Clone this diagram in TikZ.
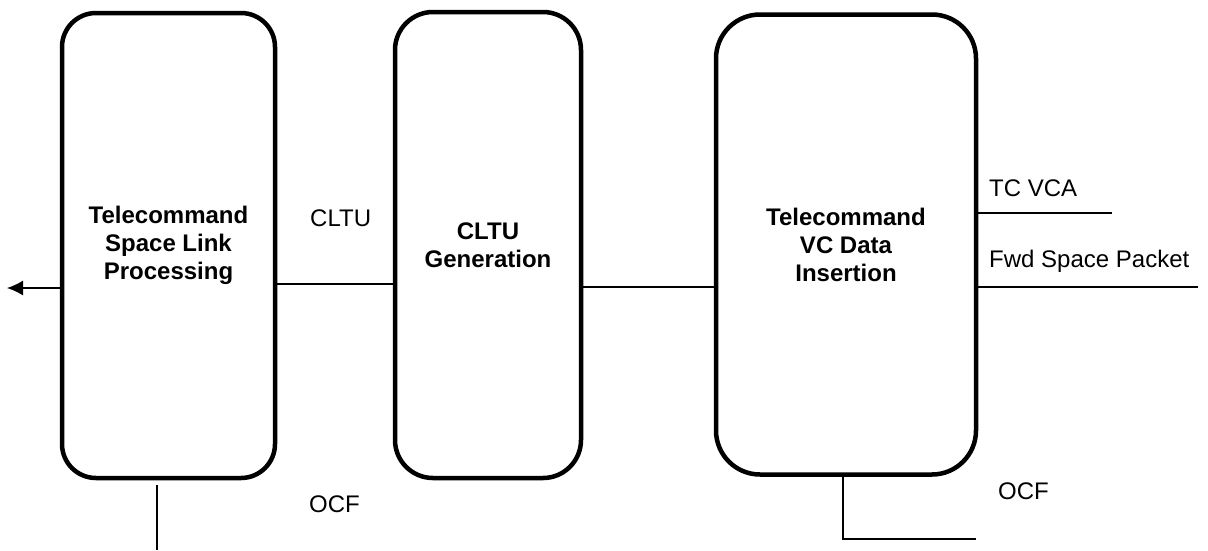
\documentclass[tikz,border=0pt]{standalone}
\usepackage{fontspec}
\setmainfont{Liberation Sans}
\usetikzlibrary{arrows.meta,positioning}

\begin{document}
\begin{tikzpicture}
 [
  x=1pt, y=-1pt,
  every node/.style={font=\fontsize{24}{28}\selectfont},
  block/.style={draw, line width=4.5pt, rounded corners=#1, inner sep=0pt, align=center, font=\fontsize{24}{28}\selectfont\bfseries},
  block/.default=34pt,
  label/.style={inner sep=0pt, anchor=west},
  wire/.style={line width=1.3pt},
 ]
  \useasboundingbox (0,0) rectangle (1208,550);

  % the three processing blocks
  \node [block, minimum width=213pt, minimum height=465pt] (tslp) at (168.5,245.5)
        {Telecommand\\Space Link\\Processing};
  \node [block=38pt, minimum width=186pt, minimum height=466pt] (cltu) at (488,245)
        {CLTU\\Generation};
  \node [block=44pt, minimum width=260pt, minimum height=460pt] (vcdi) at (846,244.5)
        {Telecommand\\VC Data\\Insertion};

  % free ends
  \coordinate (out)   at (7,288);
  \coordinate (vca)   at (1112,213);
  \coordinate (fwd)   at (1198,287);
  \coordinate (ocfa)  at (157,485);
  \coordinate (ocfb)  at (157,550);
  \coordinate (ocfc)  at (843,539);
  \coordinate (ocfd)  at (976,539);

  % connectors
  \draw [wire, -{Latex[length=16pt,width=15pt]}] (tslp.west |- out) -- (out);
  \draw [wire] (tslp.east |- 0,284) -- (cltu.west |- 0,284);
  \draw [wire] (cltu.east |- 0,287) -- (vcdi.west |- 0,287);
  \draw [wire] (vcdi.east |- vca) -- (vca);
  \draw [wire] (vcdi.east |- fwd) -- (fwd);
  \draw [wire] (ocfa) -- (ocfb);
  \draw [wire] (vcdi.south -| ocfc) -- (ocfc) -- (ocfd);

  % labels
  \node [label] (lcltu) at (310,218) {CLTU};
  \node [label] (lvca)  at (989,188) {TC VCA};
  \node [label] (lfwd)  at (989,261) {Fwd Space Packet};
  \node [label] (locfa) at (309,504) {OCF};
  \node [label] (locfb) at (998,491) {OCF};
\end{tikzpicture}
\end{document}
